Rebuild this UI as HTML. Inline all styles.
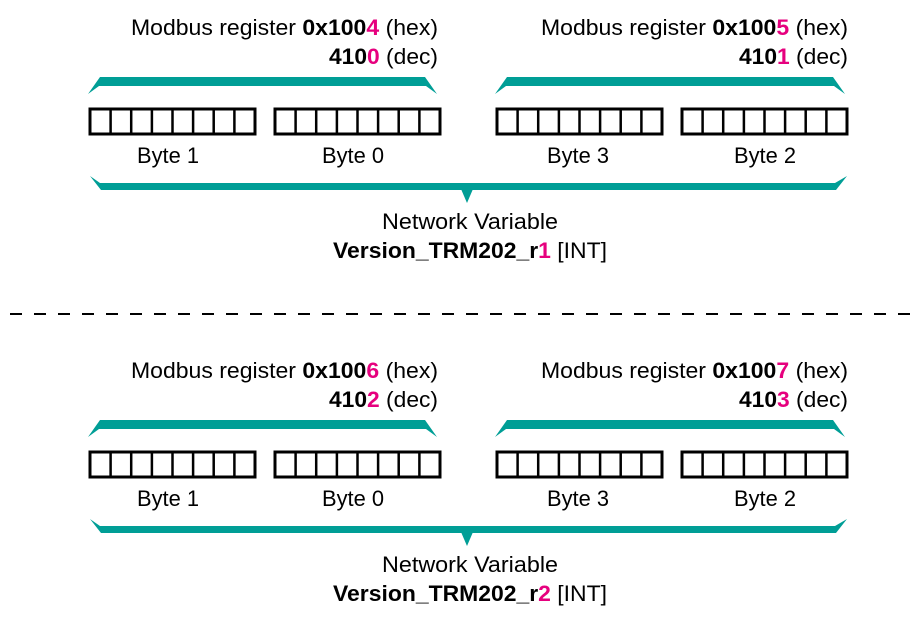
<!DOCTYPE html>
<html><head><meta charset="utf-8"><style>
body{margin:0;background:#fff}
svg{display:block}
text{font-family:"Liberation Sans",sans-serif;font-size:22px;fill:#000}
.b{font-weight:bold}
.p{fill:#e6007e;font-weight:bold}
</style></head><body>
<svg width="923" height="630" viewBox="0 0 923 630" xmlns="http://www.w3.org/2000/svg">
<defs>
<g id="cells">
<rect x="0" y="0" width="165" height="25" fill="none" stroke="#000" stroke-width="3"/>
<path d="M20.6 0V25M41.2 0V25M61.9 0V25M82.5 0V25M103.1 0V25M123.7 0V25M144.4 0V25" stroke="#000" stroke-width="2.5"/>
</g>
<g id="set">
<polygon points="88,94 100,77 425,77 437,94 426,86 99,86" fill="#009e96"/>
<polygon points="495,94 507,77 833,77 845,94 834,86 506,86" fill="#009e96"/>
<use href="#cells" x="90" y="109"/>
<use href="#cells" x="275" y="109"/>
<use href="#cells" x="497" y="109"/>
<use href="#cells" x="682" y="109"/>
<text x="168" y="163" text-anchor="middle" textLength="62" lengthAdjust="spacingAndGlyphs">Byte 1</text>
<text x="353" y="163" text-anchor="middle" textLength="62" lengthAdjust="spacingAndGlyphs">Byte 0</text>
<text x="578" y="163" text-anchor="middle" textLength="62" lengthAdjust="spacingAndGlyphs">Byte 3</text>
<text x="765" y="163" text-anchor="middle" textLength="62" lengthAdjust="spacingAndGlyphs">Byte 2</text>
<polygon points="90,176 100,183 835,183 847,176 836,190 101,190" fill="#009e96"/>
<polygon points="461,189 473,189 467,203" fill="#009e96"/>
<text x="470" y="229" text-anchor="middle" textLength="176" lengthAdjust="spacingAndGlyphs">Network Variable</text>
</g>
</defs>
<use href="#set"/>
<use href="#set" y="343"/>
<g lengthAdjust="spacingAndGlyphs">
<text x="438" y="35" text-anchor="end" textLength="307" lengthAdjust="spacingAndGlyphs">Modbus register <tspan class="b">0x100</tspan><tspan class="p">4</tspan> (hex)</text>
<text x="438" y="64" text-anchor="end" textLength="109" lengthAdjust="spacingAndGlyphs"><tspan class="b">410</tspan><tspan class="p">0</tspan> (dec)</text>
<text x="848" y="35" text-anchor="end" textLength="307" lengthAdjust="spacingAndGlyphs">Modbus register <tspan class="b">0x100</tspan><tspan class="p">5</tspan> (hex)</text>
<text x="848" y="64" text-anchor="end" textLength="109" lengthAdjust="spacingAndGlyphs"><tspan class="b">410</tspan><tspan class="p">1</tspan> (dec)</text>
<text x="470" y="258" text-anchor="middle" textLength="274" lengthAdjust="spacingAndGlyphs"><tspan class="b">Version_TRM202_r</tspan><tspan class="p">1</tspan> [INT]</text>
<line x1="10" y1="314" x2="910" y2="314" stroke="#000" stroke-width="2" stroke-dasharray="12 12"/>
<text x="438" y="378" text-anchor="end" textLength="307" lengthAdjust="spacingAndGlyphs">Modbus register <tspan class="b">0x100</tspan><tspan class="p">6</tspan> (hex)</text>
<text x="438" y="407" text-anchor="end" textLength="109" lengthAdjust="spacingAndGlyphs"><tspan class="b">410</tspan><tspan class="p">2</tspan> (dec)</text>
<text x="848" y="378" text-anchor="end" textLength="307" lengthAdjust="spacingAndGlyphs">Modbus register <tspan class="b">0x100</tspan><tspan class="p">7</tspan> (hex)</text>
<text x="848" y="407" text-anchor="end" textLength="109" lengthAdjust="spacingAndGlyphs"><tspan class="b">410</tspan><tspan class="p">3</tspan> (dec)</text>
<text x="470" y="601" text-anchor="middle" textLength="274" lengthAdjust="spacingAndGlyphs"><tspan class="b">Version_TRM202_r</tspan><tspan class="p">2</tspan> [INT]</text>
</g>
</svg>
</body></html>
